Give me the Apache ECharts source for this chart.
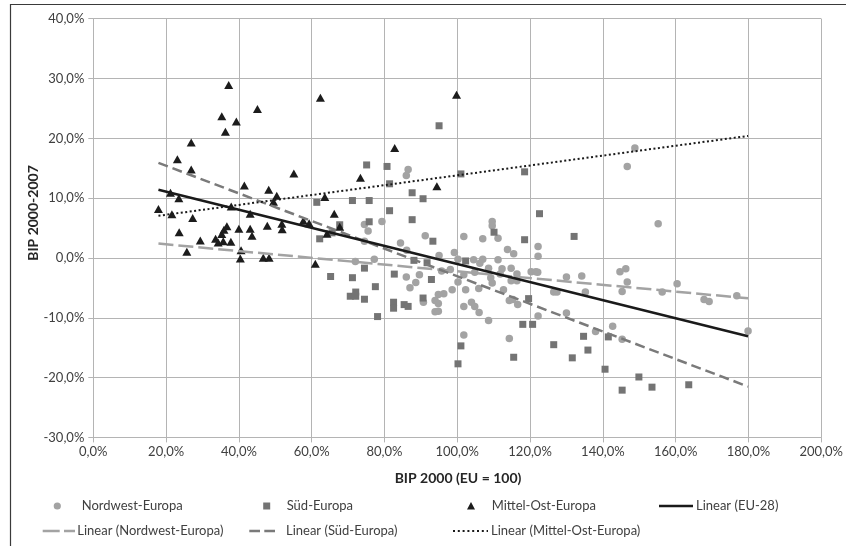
<!DOCTYPE html>
<html><head><meta charset="utf-8">
<script src="https://cdn.jsdelivr.net/npm/echarts@6/dist/echarts.min.js"></script>
<style>html,body{margin:0;padding:0;background:#fff}#c{width:846px;height:546px}</style>
</head><body><div id="c"></div>
<script>
// BIP 2000 (EU=100) in %, BIP growth 2000-2007 in %
const nordwest = [
[86.5,14.8],[86.0,13.8],[74.5,5.6],[75.5,4.5],[79.3,6.1],[74.5,2.8],[91.2,3.7],[84.4,2.5],[86.1,1.3],
[101.8,3.6],[107.0,3.2],[109.6,6.1],[109.6,5.4],[111.2,3.3],[122.2,1.9],[122.2,0.3],[113.8,1.4],[115.5,0.7],
[72.0,-0.6],[77.2,-0.2],[95.0,0.4],[99.2,0.9],[100.2,-0.2],[104.5,-0.3],[107.0,-0.2],[106.2,-0.9],[111.2,-0.3],
[112.3,-1.8],[114.8,-1.7],[116.4,-2.7],[120.3,-2.3],[121.6,-2.3],[98.1,-1.95],[95.7,-2.2],[89.6,-2.8],[86.0,-3.2],
[88.6,-4.1],[87.0,-5.0],[101.8,-2.8],[100.2,-4.0],[102.3,-5.3],[105.9,-5.1],[109.2,-3.3],[111.8,-2.7],[109.6,-4.2],
[112.7,-5.3],[114.8,-3.8],[116.4,-3.8],[98.6,-5.3],[96.3,-6.0],[94.8,-6.1],[126.5,-5.7],[93.9,-7.1],[94.8,-7.6],
[93.9,-9.0],[94.8,-8.9],[90.7,-7.4],[101.8,-8.1],[103.9,-7.4],[104.8,-8.1],[106.0,-9.1],[108.6,-10.45],[101.8,-12.9],
[114.3,-7.1],[115.3,-6.95],[116.6,-7.8],[122.2,-9.7],[114.3,-13.45],[148.8,18.4],[146.7,15.3],[155.2,5.7],
[122.1,-2.4],[130.0,-3.2],[134.2,-3.0],[144.7,-2.3],[146.3,-1.8],[146.7,-4.0],[145.3,-5.6],[135.2,-5.7],[127.4,-5.7],
[156.3,-5.7],[160.4,-4.3],[167.8,-6.95],[169.2,-7.3],[176.8,-6.3],[179.9,-12.2],[130.0,-9.2],[138.0,-12.3],
[142.7,-11.4],[145.3,-13.6],[104.8,-2.4],[108.6,-1.7]
];
const sued = [
[95.0,22.1],[75.1,15.55],[80.7,15.3],[81.4,12.4],[101.0,14.05],[118.5,14.4],[87.6,10.9],[90.6,9.9],[61.4,9.3],
[71.2,9.6],[75.8,9.6],[81.4,7.9],[87.6,6.4],[75.8,6.05],[122.6,7.4],[67.7,5.55],[65.6,4.2],[62.2,3.2],[110.1,4.3],
[118.5,3.05],[93.3,2.8],[88.1,-0.4],[91.7,-0.8],[102.3,-0.5],[74.5,-1.7],[82.7,-2.7],[65.2,-3.1],[71.2,-3.3],
[92.9,-3.6],[77.5,-4.8],[72.1,-5.7],[70.6,-6.4],[72.1,-6.4],[74.5,-6.9],[78.1,-9.8],[82.5,-7.4],[82.5,-8.4],
[85.4,-7.8],[86.5,-8.1],[90.6,-6.7],[101.0,-14.7],[100.2,-17.7],[119.6,-6.8],[118.0,-11.1],[120.7,-11.1],
[115.5,-16.6],[126.5,-14.5],[132.1,3.6],[134.7,-13.1],[135.9,-15.4],[131.6,-16.7],[141.5,-13.2],[140.6,-18.6],
[149.9,-19.9],[145.3,-22.1],[153.5,-21.6],[163.6,-21.2]
];
const mittelOst = [
[17.9,8.2],[21.2,10.9],[23.5,10.0],[21.6,7.3],[23.1,16.5],[26.9,19.3],[26.9,14.8],[27.3,6.7],[23.6,4.3],
[25.7,1.05],[29.4,2.9],[33.6,3.2],[34.3,2.6],[35.3,4.0],[35.7,2.8],[35.9,4.7],[36.7,5.3],[37.8,2.7],[37.2,28.9],
[35.3,23.7],[36.3,21.1],[39.3,22.8],[45.1,24.9],[37.9,8.6],[41.5,12.1],[40.0,4.9],[40.6,1.3],[40.4,-0.1],
[43.1,7.4],[43.1,4.9],[43.6,3.7],[46.7,0.05],[48.3,0.05],[47.8,5.4],[48.2,11.4],[49.5,9.4],[50.4,10.4],
[51.8,5.7],[51.9,4.8],[55.1,14.1],[57.7,6.2],[59.3,5.8],[61.0,-0.95],[62.4,26.8],[99.8,27.3],[82.8,18.4],
[73.4,13.4],[94.4,12.0],[63.6,10.2],[66.2,7.4],[67.7,5.2],[64.2,4.05]
];
// trend line end points
const trendEU = [[17.9,11.4],[179.9,-13.1]];
const trendNordwest = [[17.9,2.4],[179.9,-6.75]];
const trendSued = [[17.9,15.9],[179.9,-21.5]];
const trendMittelOst = [[17.9,7.05],[179.9,20.4]];

const xTicks = {min:0, max:200, interval:20};
const yTicks = {min:-30, max:40, interval:10};
const legendNames = ['Nordwest-Europa','Süd-Europa','Mittel-Ost-Europa','Linear (EU-28)',
  'Linear (Nordwest-Europa)','Linear (Süd-Europa)','Linear (Mittel-Ost-Europa)'];

const FONT = 'Lato, "Noto Sans", sans-serif';
const pct = v => v.toFixed(1).replace('.', ',') + '%';
const axisGray = '#b4b4b4';
const lab = {color:'#404040', fontFamily:FONT, fontSize:13};
const C_NW = '#a3a3a3', C_S = '#747474', C_MO = '#1c1c1c', C_EU = '#1a1a1a';

function ltext(x, y, t){
  return {type:'text', x:x, y:y, silent:true,
    style:{text:t, font:'13px '+FONT, fill:'#404040', textAlign:'left', textVerticalAlign:'middle'}};
}
function lline(x1, x2, y, color, w, dash){
  return {type:'line', silent:true, shape:{x1:x1, y1:y, x2:x2, y2:y},
    style:{stroke:color, lineWidth:w, lineDash:dash || null}};
}
const r1 = 506, r2 = 531;
const legendGraphics = [
  {type:'circle', silent:true, shape:{cx:57.3, cy:r1, r:3.6}, style:{fill:C_NW}},
  ltext(81.7, r1, legendNames[0]),
  {type:'rect', silent:true, shape:{x:263.2, y:r1-3.5, width:7, height:7}, style:{fill:C_S}},
  ltext(286.7, r1, legendNames[1]),
  {type:'polygon', silent:true, shape:{points:[[471,r1-4],[475,r1+3.5],[467,r1+3.5]]}, style:{fill:C_MO}},
  ltext(491.7, r1, legendNames[2]),
  lline(659, 693, r1, C_EU, 2.5),
  ltext(696, r1, legendNames[3]),
  lline(42.7, 75, r2, C_NW, 2.5, [17, 4.3]),
  ltext(77.3, r2, legendNames[4]),
  lline(249.3, 275, r2, '#7a7a7a', 2.5, [10.7, 4.3]),
  ltext(286, r2, legendNames[5]),
  lline(453, 488, r2, C_EU, 2, [2, 2.8]),
  ltext(491, r2, legendNames[6])
];

const chart = echarts.init(document.getElementById('c'), null, {renderer:'canvas'});
chart.setOption({
  animation:false,
  backgroundColor:'#fff',
  grid:{left:93.3, right:23, top:18.7, bottom:108.6, containLabel:false},
  xAxis:{type:'value', min:xTicks.min, max:xTicks.max, interval:xTicks.interval,
    axisLine:{onZero:false, lineStyle:{color:axisGray}},
    axisTick:{show:true, length:5, lineStyle:{color:axisGray}},
    splitLine:{lineStyle:{color:axisGray}},
    axisLabel:Object.assign({formatter:pct, margin:8}, lab)},
  yAxis:{type:'value', min:yTicks.min, max:yTicks.max, interval:yTicks.interval,
    axisLine:{show:true, lineStyle:{color:axisGray}},
    axisTick:{show:true, length:5, lineStyle:{color:axisGray}},
    splitLine:{lineStyle:{color:axisGray}},
    axisLabel:Object.assign({formatter:pct, margin:9}, lab)},
  graphic:[
    {type:'rect', shape:{x:10.5, y:4.5, width:900, height:700}, style:{fill:'none', stroke:'#3a3a3a', lineWidth:1.2}, silent:true},
    {type:'text', x:458, y:478, style:{text:'BIP 2000 (EU = 100)', font:'bold 14px '+FONT, fill:'#262626', textAlign:'center', textVerticalAlign:'middle'}},
    {type:'text', x:33, y:213, rotation:Math.PI/2, style:{text:'BIP 2000-2007', font:'bold 14px '+FONT, fill:'#262626', textAlign:'center', textVerticalAlign:'middle'}}
  ].concat(legendGraphics),
  series:[
    {name:legendNames[0], type:'scatter', data:nordwest, symbol:'circle', symbolSize:7.5, itemStyle:{color:C_NW, opacity:1}, z:2},
    {name:legendNames[1], type:'scatter', data:sued, symbol:'rect', symbolSize:7, itemStyle:{color:C_S, opacity:1}, z:3},
    {name:legendNames[2], type:'scatter', data:mittelOst, symbol:'triangle', symbolSize:[9,8], itemStyle:{color:C_MO, opacity:1}, z:4},
    {name:legendNames[3], type:'line', data:trendEU, symbol:'none', itemStyle:{color:C_EU}, lineStyle:{color:C_EU, width:2.5}, z:6},
    {name:legendNames[4], type:'line', data:trendNordwest, symbol:'none', itemStyle:{color:C_NW}, lineStyle:{color:C_NW, width:2.5, type:[15,5]}, z:5},
    {name:legendNames[5], type:'line', data:trendSued, symbol:'none', itemStyle:{color:'#7a7a7a'}, lineStyle:{color:'#7a7a7a', width:2.5, type:[10,5]}, z:5},
    {name:legendNames[6], type:'line', data:trendMittelOst, symbol:'none', itemStyle:{color:C_EU}, lineStyle:{color:C_EU, width:2, type:[2,2.5]}, z:5}
  ]
});
</script></body></html>
